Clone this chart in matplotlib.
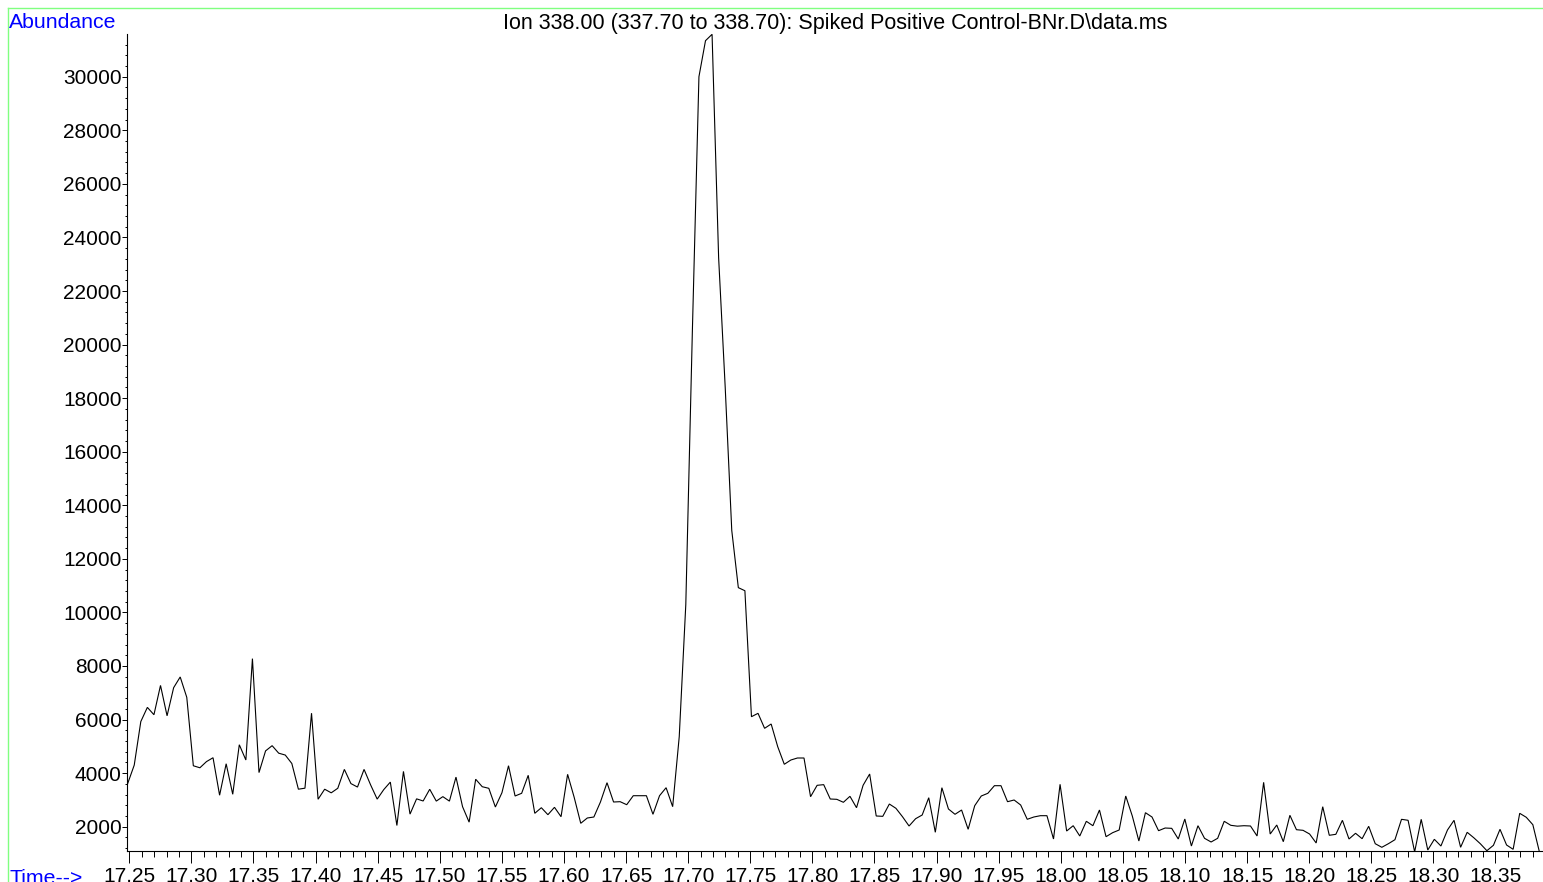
import numpy as np
import matplotlib
matplotlib.use("Agg")
import matplotlib.pyplot as plt
from matplotlib.lines import Line2D
from matplotlib.ticker import MultipleLocator, FormatStrFormatter

# ---------------- data ----------------
title_text = "Ion 338.00 (337.70 to 338.70): Spiked Positive Control-BNr.D\\data.ms"
y_label_text = "Abundance"
x_label_text = "Time-->"

t_start = 17.2487      # retention time of first scan (min)
scan_step = 0.005287   # time between scans (min)

abundance = [
    3610, 4300, 5925, 6455, 6180, 7275, 6140, 7190, 7590, 6830,
    4275, 4200, 4430, 4575, 3175, 4350, 3210, 5060, 4490, 8275,
    4020, 4830, 5025, 4745, 4675, 4360, 3400, 3438, 6238, 3025,
    3400, 3265, 3435, 4140, 3610, 3480, 4140, 3560, 3030, 3385,
    3665, 2045, 4065, 2470, 3040, 2960, 3398, 2955, 3122, 2955,
    3852, 2748, 2170, 3772, 3493, 3433, 2735, 3269, 4277, 3146,
    3247, 3919, 2500, 2709, 2448, 2724, 2373, 3956, 3097, 2127,
    2325, 2362, 2922, 3643, 2922, 2934, 2821, 3157, 3157, 3157,
    2463, 3157, 3456, 2747, 5360, 10295, 20500, 30000, 31345, 31584,
    23241, 18414, 13061, 10925, 10810, 6107, 6233, 5673, 5834, 4987,
    4330, 4490, 4565, 4565, 3120, 3545, 3570, 3034, 3022, 2911,
    3135, 2709, 3545, 3967, 2400, 2387, 2847, 2687, 2373, 2026,
    2299, 2437, 3083, 1791, 3456, 2661, 2463, 2623, 1903, 2784,
    3146, 3247, 3531, 3531, 2933, 2997, 2810, 2276, 2362, 2411,
    2411, 1541, 3583, 1839, 2037, 1653, 2202, 2037, 2623, 1627,
    1776, 1877, 3146, 2399, 1466, 2523, 2362, 1851, 1951, 1939,
    1541, 2287, 1279, 2037, 1567, 1429, 1567, 2202, 2052, 2020,
    2037, 2026, 1653, 3657, 1727, 2063, 1440, 2426, 1888, 1865,
    1727, 1392, 2747, 1679, 1716, 2239, 1541, 1754, 1552, 2015,
    1365, 1231, 1365, 1515, 2276, 2239, 1060, 2276, 1130, 1530,
    1279, 1877, 2239, 1231, 1791, 1589, 1365, 1104, 1306, 1903,
    1317, 1156, 2500, 2351, 2075, 1060,
]

x_major_ticks = [17.25, 17.30, 17.35, 17.40, 17.45, 17.50, 17.55, 17.60,
                 17.65, 17.70, 17.75, 17.80, 17.85, 17.90, 17.95, 18.00,
                 18.05, 18.10, 18.15, 18.20, 18.25, 18.30, 18.35]
y_major_ticks = [2000, 4000, 6000, 8000, 10000, 12000, 14000, 16000,
                 18000, 20000, 22000, 24000, 26000, 28000, 30000]

x_limits = (17.2484, 18.3883)
y_limits = (1104, 31584)

# ---------------- figure ----------------
plt.rcParams["font.family"] = ["Liberation Sans", "DejaVu Sans"]
W, H = 1543, 882
fig = plt.figure(figsize=(W / 100, H / 100), dpi=100)
fig.patch.set_facecolor("white")

ax_l, ax_r, ax_t, ax_b = 127.3, 1543.0, 34.3, 850.7
ax = fig.add_axes([ax_l / W, (H - ax_b) / H, (ax_r - ax_l) / W, (ax_b - ax_t) / H])

times = t_start + scan_step * np.arange(len(abundance))
ax.plot(times, abundance, color="black", lw=0.8, solid_joinstyle="miter")

ax.set_xlim(*x_limits)
ax.set_ylim(*y_limits)

for s in ("top", "right"):
    ax.spines[s].set_visible(False)
for s in ("left", "bottom"):
    ax.spines[s].set_linewidth(0.8)
    ax.spines[s].set_color("black")

fs = 15.0
ax.set_xticks(x_major_ticks)
ax.xaxis.set_major_formatter(FormatStrFormatter("%.2f"))
ax.xaxis.set_minor_locator(MultipleLocator(0.01))
ax.set_yticks(y_major_ticks)
ax.yaxis.set_major_formatter(FormatStrFormatter("%d"))
ax.yaxis.set_minor_locator(MultipleLocator(400))

ax.tick_params(axis="x", which="major", direction="out", length=8.4, width=0.7,
               pad=3.4, labelsize=fs)
ax.tick_params(axis="x", which="minor", direction="out", length=4.1, width=0.7)
ax.tick_params(axis="y", which="major", direction="out", length=3.3, width=0.7,
               pad=0.8, labelsize=fs)
ax.tick_params(axis="y", which="minor", direction="out", length=1.6, width=0.7)

# texts
fig.text(835.0 / W, 1 - 28.5 / H, title_text, ha="center", va="baseline",
         fontsize=15.5, color="black")
fig.text(9.3 / W, 1 - 28.3 / H, y_label_text, ha="left", va="baseline",
         fontsize=15.3, color="#0000FF")
fig.text(9.3 / W, -1.5 / H, x_label_text, ha="left", va="baseline",
         fontsize=15.3, color="#0000FF")

# light green frame
green = "#80FF80"
fig.add_artist(Line2D([8.3 / W, 1.0], [1 - 7.5 / H, 1 - 7.5 / H],
                      transform=fig.transFigure, color=green, lw=1.0))
fig.add_artist(Line2D([8.3 / W, 8.3 / W], [1 - 7.5 / H, 0.0],
                      transform=fig.transFigure, color=green, lw=1.0))

fig.savefig("out.png", dpi=100)
